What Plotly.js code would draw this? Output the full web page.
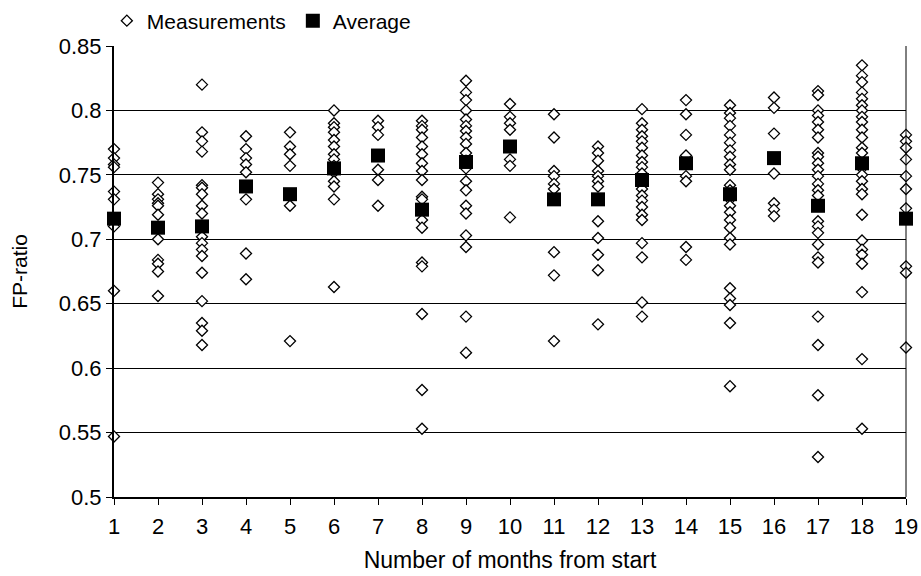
<!DOCTYPE html>
<html>
<head>
<meta charset="utf-8">
<script src="https://cdn.plot.ly/plotly-3.0.1.min.js"></script>
<style>html,body{margin:0;padding:0;background:#fff;}#chart{width:921px;height:576px;}</style>
</head>
<body>
<div id="chart"></div>
<script>
const m1 = [0.770, 0.763, 0.758, 0.756, 0.737, 0.731, 0.710, 0.660, 0.547];
const m2 = [0.744, 0.735, 0.731, 0.728, 0.726, 0.719, 0.700, 0.684, 0.681, 0.675, 0.656];
const m3 = [0.820, 0.783, 0.776, 0.768, 0.742, 0.740, 0.735, 0.726, 0.720, 0.702, 0.697, 0.692, 0.687, 0.674, 0.652, 0.635, 0.629, 0.618];
const m4 = [0.780, 0.770, 0.763, 0.758, 0.752, 0.731, 0.689, 0.669];
const m5 = [0.783, 0.772, 0.766, 0.757, 0.726, 0.621];
const m6 = [0.800, 0.790, 0.787, 0.783, 0.777, 0.772, 0.766, 0.762, 0.757, 0.752, 0.745, 0.741, 0.731, 0.663];
const m7 = [0.792, 0.787, 0.781, 0.754, 0.746, 0.726];
const m8 = [0.792, 0.788, 0.785, 0.779, 0.772, 0.766, 0.759, 0.753, 0.746, 0.733, 0.731, 0.715, 0.709, 0.682, 0.679, 0.642, 0.583, 0.553];
const m9 = [0.823, 0.814, 0.808, 0.800, 0.793, 0.788, 0.784, 0.779, 0.774, 0.767, 0.761, 0.755, 0.745, 0.738, 0.726, 0.720, 0.703, 0.694, 0.640, 0.612];
const m10 = [0.805, 0.795, 0.790, 0.785, 0.762, 0.757, 0.717];
const m11 = [0.797, 0.779, 0.753, 0.749, 0.743, 0.739, 0.690, 0.672, 0.621];
const m12 = [0.772, 0.767, 0.761, 0.753, 0.749, 0.745, 0.741, 0.714, 0.701, 0.688, 0.676, 0.634];
const m13 = [0.801, 0.790, 0.785, 0.780, 0.776, 0.771, 0.765, 0.760, 0.756, 0.751, 0.739, 0.734, 0.730, 0.725, 0.719, 0.715, 0.697, 0.686, 0.651, 0.640];
const m14 = [0.808, 0.797, 0.781, 0.765, 0.749, 0.745, 0.694, 0.684];
const m15 = [0.804, 0.798, 0.794, 0.788, 0.781, 0.775, 0.769, 0.764, 0.758, 0.754, 0.742, 0.738, 0.731, 0.726, 0.721, 0.715, 0.709, 0.701, 0.696, 0.662, 0.654, 0.649, 0.635, 0.586];
const m16 = [0.810, 0.802, 0.782, 0.751, 0.728, 0.723, 0.718];
const m17 = [0.815, 0.812, 0.800, 0.796, 0.791, 0.785, 0.779, 0.767, 0.764, 0.759, 0.754, 0.749, 0.743, 0.738, 0.734, 0.714, 0.710, 0.705, 0.696, 0.686, 0.682, 0.640, 0.618, 0.579, 0.531];
const m18 = [0.835, 0.827, 0.822, 0.814, 0.809, 0.804, 0.800, 0.795, 0.791, 0.785, 0.779, 0.771, 0.767, 0.755, 0.750, 0.745, 0.739, 0.735, 0.719, 0.699, 0.692, 0.688, 0.681, 0.659, 0.607, 0.553];
const m19 = [0.781, 0.776, 0.771, 0.762, 0.749, 0.739, 0.724, 0.679, 0.674, 0.616];
const months = [1,2,3,4,5,6,7,8,9,10,11,12,13,14,15,16,17,18,19];
const measurements = [m1,m2,m3,m4,m5,m6,m7,m8,m9,m10,m11,m12,m13,m14,m15,m16,m17,m18,m19];
const averages = [0.716, 0.709, 0.710, 0.741, 0.735, 0.755, 0.765, 0.723, 0.760, 0.772, 0.731, 0.731, 0.746, 0.759, 0.735, 0.763, 0.726, 0.759, 0.716];
const yTicks = [0.5, 0.55, 0.6, 0.65, 0.7, 0.75, 0.8, 0.85];
const yTickLabels = ["0.5", "0.55", "0.6", "0.65", "0.7", "0.75", "0.8", "0.85"];

const mx = [], my = [];
measurements.forEach((arr, i) => arr.forEach(v => { mx.push(months[i]); my.push(v); }));

const font = 'Liberation Sans, Arial, sans-serif';
const traces = [
  {
    type: 'scatter', mode: 'markers', name: 'Measurements',
    x: mx, y: my, cliponaxis: false,
    marker: {symbol: 'diamond', size: 8.5, color: '#ffffff', line: {color: '#000000', width: 1.3}}
  },
  {
    type: 'scatter', mode: 'markers', name: 'Average',
    x: months, y: averages, cliponaxis: false,
    marker: {symbol: 'square', size: 14, color: '#000000', line: {width: 0}}
  }
];
const layout = {
  width: 921, height: 576,
  paper_bgcolor: '#ffffff', plot_bgcolor: '#ffffff',
  margin: {l: 114, r: 15, t: 46, b: 79},
  font: {family: font, color: '#000000', size: 21},
  showlegend: true,
  legend: {orientation: 'h', xref: 'container', yref: 'container',
           x: 0.116, xanchor: 'left', y: 0.9635, yanchor: 'middle',
           font: {size: 21, family: font}, itemwidth: 30, entrywidth: 141,
           bgcolor: 'rgba(0,0,0,0)'},
  xaxis: {
    range: [1, 19], tickmode: 'array', tickvals: months, ticktext: months.map(String),
    showgrid: false, zeroline: false, showline: true, linecolor: '#000', linewidth: 1.5,
    ticks: 'outside', ticklen: 6, tickcolor: '#000', tickfont: {size: 22, family: font},
    ticklabelstandoff: 3,
    title: {text: 'Number of months from start', font: {size: 23, family: font}, standoff: 14}
  },
  yaxis: {
    range: [0.5, 0.85], tickmode: 'array', tickvals: yTicks, ticktext: yTickLabels,
    showgrid: true, gridcolor: '#000', gridwidth: 1, zeroline: false,
    showline: true, linecolor: '#000', linewidth: 2,
    ticks: 'outside', ticklen: 6, tickcolor: '#000', tickfont: {size: 22, family: font},
    title: {text: 'FP-ratio', font: {size: 21, family: font}, standoff: 25}
  },
  shapes: [
    {type: 'line', xref: 'paper', yref: 'paper', x0: 1, x1: 1, y0: 0, y1: 1, line: {color: '#000', width: 1}}
  ]
};
Plotly.newPlot('chart', traces, layout, {displayModeBar: false, staticPlot: true});
</script>
</body>
</html>
